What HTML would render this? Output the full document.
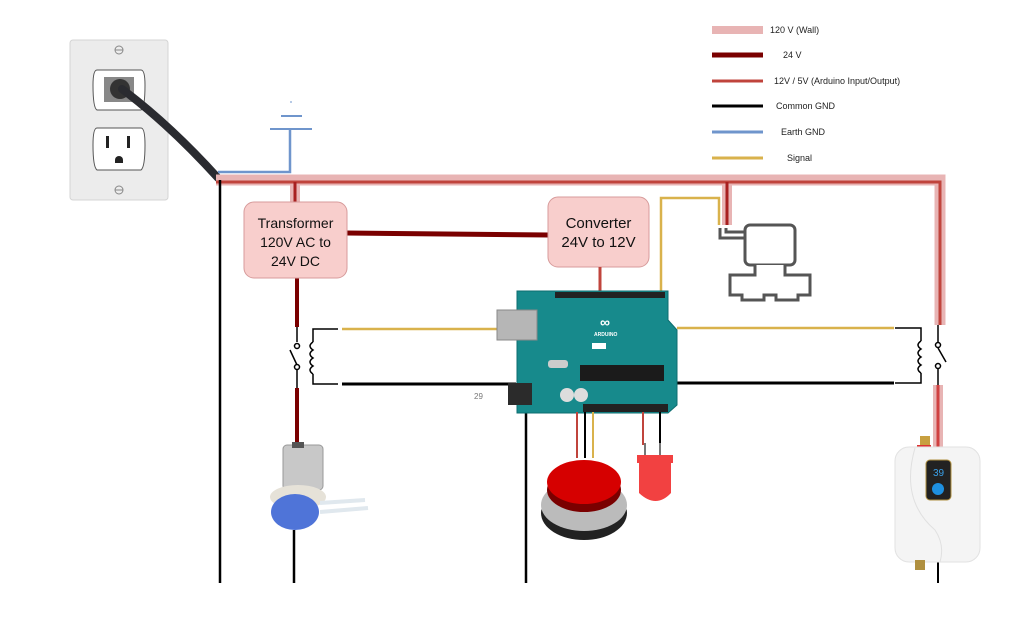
<!DOCTYPE html>
<html><head><meta charset="utf-8"><style>
html,body{margin:0;padding:0;background:#fff;}
svg{display:block;font-family:"Liberation Sans",sans-serif;}
</style></head><body>
<svg width="1020" height="620" viewBox="0 0 1020 620" xmlns="http://www.w3.org/2000/svg">
<rect width="1020" height="620" fill="#fff"/>
<!-- Legend -->
<g font-size="9" fill="#222">
<line x1="712" y1="30" x2="763" y2="30" stroke="#e8b4b4" stroke-width="8"/>
<text x="770" y="33">120 V (Wall)</text>
<line x1="712" y1="55" x2="763" y2="55" stroke="#7a0000" stroke-width="5"/>
<text x="783" y="58">24 V</text>
<line x1="712" y1="81" x2="763" y2="81" stroke="#c0443c" stroke-width="3"/>
<text x="774" y="84">12V / 5V (Arduino Input/Output)</text>
<line x1="712" y1="106" x2="763" y2="106" stroke="#000" stroke-width="3"/>
<text x="776" y="109">Common GND</text>
<line x1="712" y1="132" x2="763" y2="132" stroke="#6f95cc" stroke-width="3"/>
<text x="781" y="135">Earth GND</text>
<line x1="712" y1="158" x2="763" y2="158" stroke="#d9b24c" stroke-width="3"/>
<text x="787" y="161">Signal</text>
</g>
<!-- Outlet -->
<rect x="70" y="40" width="98" height="160" rx="3" fill="#ececec" stroke="#d4d4d4"/>
<circle cx="119" cy="50" r="4" fill="none" stroke="#888"/><line x1="115" y1="50" x2="123" y2="50" stroke="#888"/>
<circle cx="119" cy="190" r="4" fill="none" stroke="#888"/><line x1="115" y1="190" x2="123" y2="190" stroke="#888"/>
<path d="M97 70 Q93 70 93 85 Q93 108 97 110 L141 110 Q145 108 145 85 Q145 70 141 70 Z" fill="#fff" stroke="#555"/>
<rect x="104" y="77" width="30" height="25" fill="#888"/>
<path d="M97 128 Q93 128 93 145 Q93 167 97 170 L141 170 Q145 167 145 145 Q145 128 141 128 Z" fill="#fff" stroke="#555"/>
<rect x="106" y="136" width="3" height="12" fill="#222"/><rect x="127" y="136" width="3" height="12" fill="#222"/>
<path d="M115 160 a4 4 0 0 1 8 0 v3 h-8z" fill="#222"/>
<circle cx="120" cy="89" r="10" fill="#333"/>
<path d="M122 89 Q170 125 218 178" fill="none" stroke="#2a2b30" stroke-width="8" stroke-linecap="round"/>
<!-- Earth GND -->
<polyline points="218,172 290,172 290,130" fill="none" stroke="#6f95cc" stroke-width="2.5"/>
<line x1="270" y1="129" x2="312" y2="129" stroke="#6f95cc" stroke-width="2"/>
<line x1="281" y1="116" x2="302" y2="116" stroke="#6f95cc" stroke-width="2"/>
<line x1="291" y1="101" x2="291" y2="103" stroke="#6f95cc" stroke-width="1"/>
<!-- 120V bus -->
<g fill="none" stroke-linejoin="miter">
<polyline points="216,180 940,180 940,325" stroke="#e8b4b4" stroke-width="11"/>
<line x1="295" y1="180" x2="295" y2="203" stroke="#e8b4b4" stroke-width="10"/>
<line x1="727" y1="180" x2="727" y2="225" stroke="#e8b4b4" stroke-width="10"/>
<line x1="938" y1="385" x2="938" y2="447" stroke="#e8b4b4" stroke-width="10"/>
<polyline points="216,182 940,182 940,325" stroke="#c0443c" stroke-width="3"/>
<line x1="295" y1="182" x2="295" y2="203" stroke="#a82020" stroke-width="3"/>
<line x1="727" y1="182" x2="727" y2="225" stroke="#a82020" stroke-width="3"/>
<line x1="938" y1="385" x2="938" y2="447" stroke="#d04040" stroke-width="3"/>
</g>
<!-- GND rails -->
<line x1="220" y1="180" x2="220" y2="583" stroke="#000" stroke-width="2.5"/>
<line x1="294" y1="530" x2="294" y2="583" stroke="#000" stroke-width="2.5"/>
<line x1="526" y1="412" x2="526" y2="583" stroke="#000" stroke-width="2.5"/>
<line x1="938" y1="562" x2="938" y2="583" stroke="#000" stroke-width="2"/>
<!-- 24V -->
<line x1="346" y1="233" x2="549" y2="235" stroke="#7a0000" stroke-width="5"/>
<line x1="297" y1="278" x2="297" y2="327" stroke="#7a0000" stroke-width="4"/>
<line x1="297" y1="388" x2="297" y2="450" stroke="#7a0000" stroke-width="4"/>
<!-- boxes -->
<rect x="244" y="202" width="103" height="76" rx="10" fill="#f8cecc" stroke="#d79b9b"/>
<text x="295.5" y="228" font-size="14" text-anchor="middle" fill="#111">Transformer</text>
<text x="295.5" y="247" font-size="14" text-anchor="middle" fill="#111">120V AC to</text>
<text x="295.5" y="266" font-size="14" text-anchor="middle" fill="#111">24V DC</text>
<rect x="548" y="197" width="101" height="70" rx="10" fill="#f8cecc" stroke="#d79b9b"/>
<text x="598.5" y="228" font-size="15" text-anchor="middle" fill="#111">Converter</text>
<text x="598.5" y="247" font-size="15" text-anchor="middle" fill="#111">24V to 12V</text>
<line x1="600" y1="267" x2="600" y2="292" stroke="#c0443c" stroke-width="3"/>
<!-- signal to valve -->
<polyline points="661,292 661,198 719,198 719,225" fill="none" stroke="#d9b24c" stroke-width="2.5"/>
<!-- Left relay -->
<g fill="none" stroke="#000" stroke-width="1.5">
<line x1="297" y1="327" x2="297" y2="342"/>
<circle cx="297" cy="346" r="2.5" fill="#fff"/>
<line x1="290" y1="350" x2="297" y2="365"/>
<circle cx="297" cy="367" r="2.5" fill="#fff"/>
<line x1="297" y1="370" x2="297" y2="388"/>
<polyline points="338,329 313,329 313,342"/>
<path d="M313 342 q-6 4 0 8 q-6 4 0 8 q-6 4 0 8 q-6 4 0 8"/>
<polyline points="313,374 313,384 338,384"/>
<polyline points="895,328 921,328 921,341"/>
<path d="M921 341 q-6 4 0 8 q-6 4 0 8 q-6 4 0 8 q-6 4 0 8"/>
<polyline points="921,373 921,383 895,383"/>
<line x1="938" y1="325" x2="938" y2="342"/>
<circle cx="938" cy="345" r="2.5" fill="#fff"/>
<line x1="938" y1="348" x2="946" y2="362"/>
<circle cx="938" cy="366" r="2.5" fill="#fff"/>
<line x1="938" y1="369" x2="938" y2="385"/>
</g>
<line x1="342" y1="329" x2="500" y2="329" stroke="#d9b24c" stroke-width="2.5"/>
<line x1="342" y1="384" x2="516" y2="384" stroke="#000" stroke-width="3"/>
<line x1="677" y1="328" x2="894" y2="328" stroke="#d9b24c" stroke-width="2.5"/>
<line x1="677" y1="383" x2="894" y2="383" stroke="#000" stroke-width="3"/>
<text x="474" y="399" font-size="8" fill="#777">29</text>
<!-- Arduino -->
<path d="M517 291 L668 291 L668 320 L677 330 L677 405 L668 413 L517 413 Z" fill="#178a8c" stroke="#0e6e70"/>
<rect x="555" y="292" width="110" height="6" fill="#222"/>
<rect x="583" y="404" width="85" height="8" fill="#222"/>
<rect x="580" y="365" width="84" height="16" fill="#1b1b1b"/>
<rect x="497" y="310" width="40" height="30" fill="#b6b6b6" stroke="#888"/>
<rect x="508" y="383" width="24" height="22" fill="#2b2b2b"/>
<circle cx="567" cy="395" r="7" fill="#ddd"/><circle cx="581" cy="395" r="7" fill="#ddd"/>
<rect x="548" y="360" width="20" height="8" rx="3" fill="#ccc"/>
<text x="600" y="327" font-size="14" fill="#fff" font-weight="bold">∞</text>
<text x="594" y="336" font-size="5" fill="#fff" font-weight="bold">ARDUINO</text>
<rect x="592" y="343" width="14" height="6" fill="#fff"/>
<!-- Valve -->
<g fill="#fff" stroke="#555" stroke-width="3">
<rect x="745" y="225" width="50" height="40" rx="5"/>
<path d="M720 228 v10 h25 M726 228 v4 h19" fill="none"/>
<path d="M755 265 v10 h-25 v20 h12 v5 h22 v-5 h12 v5 h22 v-5 h12 v-20 h-25 v-10"/>
</g>
<!-- Button wires -->
<line x1="577" y1="412" x2="577" y2="458" stroke="#c0443c" stroke-width="2"/>
<line x1="585" y1="412" x2="585" y2="458" stroke="#000" stroke-width="2"/>
<line x1="593" y1="412" x2="593" y2="458" stroke="#d9b24c" stroke-width="2"/>
<line x1="643" y1="412" x2="643" y2="445" stroke="#c0443c" stroke-width="2"/>
<line x1="660" y1="412" x2="660" y2="445" stroke="#000" stroke-width="2"/>
<!-- Button -->
<ellipse cx="584" cy="513" rx="43" ry="27" fill="#222"/>
<ellipse cx="584" cy="505" rx="43" ry="26" fill="#bbb"/>
<ellipse cx="584" cy="490" rx="37" ry="22" fill="#7a0000"/>
<ellipse cx="584" cy="482" rx="37" ry="22" fill="#d60000"/>
<!-- LED -->
<line x1="645" y1="443" x2="645" y2="455" stroke="#777" stroke-width="2"/>
<line x1="660" y1="443" x2="660" y2="455" stroke="#777" stroke-width="2"/>
<path d="M637 455 h36 v8 h-2 v30 q-15 16 -32 0 v-30 h-2z" fill="#f02020" opacity="0.85"/>
<!-- Pump -->
<rect x="283" y="445" width="40" height="45" rx="4" fill="#c8c8c8" stroke="#999"/>
<rect x="292" y="442" width="12" height="6" fill="#555"/>
<ellipse cx="298" cy="497" rx="28" ry="12" fill="#e6e2d8"/>
<ellipse cx="295" cy="512" rx="24" ry="18" fill="#4f74d8"/>
<line x1="320" y1="503" x2="365" y2="500" stroke="#e0e8ee" stroke-width="4"/>
<line x1="320" y1="512" x2="368" y2="508" stroke="#e0e8ee" stroke-width="4"/>
<!-- Heater -->
<rect x="920" y="436" width="10" height="12" fill="#c8a040"/>
<rect x="917" y="445" width="14" height="4" fill="#d33"/>
<rect x="895" y="447" width="85" height="115" rx="14" fill="#f4f4f4" stroke="#e2e2e2"/>
<path d="M915 448 Q900 500 935 530 Q945 545 940 562" fill="none" stroke="#e0e0e0"/>
<rect x="926" y="460" width="25" height="40" rx="4" fill="#222" stroke="#b09040"/>
<text x="933" y="476" font-size="10" fill="#3aa0e8">39</text>
<circle cx="938" cy="489" r="6" fill="#1e90e0"/>
<rect x="915" y="560" width="10" height="10" fill="#b09040"/>
</svg>
</body></html>
